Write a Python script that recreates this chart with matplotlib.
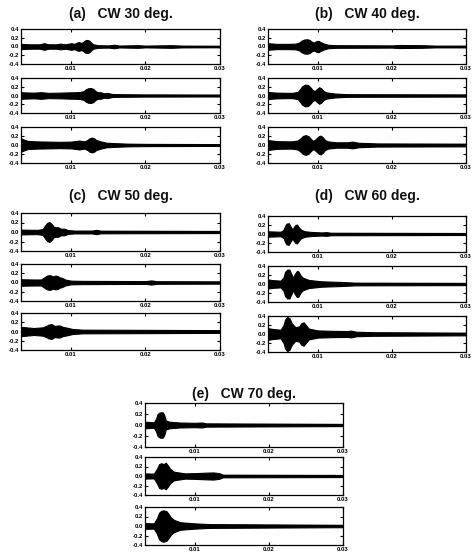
import matplotlib
matplotlib.use("Agg")
import matplotlib.pyplot as plt
import numpy as np

# envelope keypoints (time in s, half amplitude)
cw30_1 = [(0.0033, 0.06), (0.0045, 0.05), (0.0058, 0.05), (0.0064, 0.075), (0.0070, 0.05), (0.0080, 0.05),
          (0.0086, 0.065), (0.0093, 0.05), (0.0100, 0.075), (0.0105, 0.06), (0.0108, 0.09), (0.0111, 0.10),
          (0.0114, 0.08), (0.0117, 0.11), (0.0119, 0.14), (0.0122, 0.15), (0.0125, 0.13), (0.0127, 0.09),
          (0.0130, 0.05), (0.0136, 0.03), (0.0150, 0.025), (0.0158, 0.04), (0.0165, 0.022), (0.0190, 0.03),
          (0.0200, 0.02), (0.0235, 0.03), (0.0250, 0.02), (0.0300, 0.018)]
cw30_2 = [(0.0033, 0.075), (0.0040, 0.07), (0.0050, 0.065), (0.0060, 0.075), (0.0070, 0.06), (0.0085, 0.065),
          (0.0095, 0.07), (0.0105, 0.075), (0.0112, 0.08), (0.0117, 0.10), (0.0120, 0.14), (0.0123, 0.165),
          (0.0127, 0.17), (0.0130, 0.15), (0.0133, 0.10), (0.0136, 0.075), (0.0140, 0.075), (0.0144, 0.05),
          (0.0149, 0.06), (0.0155, 0.035), (0.0167, 0.03), (0.0200, 0.025), (0.0300, 0.022)]
cw30_3 = [(0.0033, 0.15), (0.0037, 0.12), (0.0042, 0.09), (0.0055, 0.08), (0.0070, 0.075), (0.0085, 0.07),
          (0.0100, 0.075), (0.0108, 0.09), (0.0111, 0.10), (0.0118, 0.08), (0.0122, 0.11), (0.0125, 0.15),
          (0.0128, 0.165), (0.0131, 0.15), (0.0134, 0.11), (0.0140, 0.08), (0.0148, 0.05), (0.0154, 0.045),
          (0.0176, 0.03), (0.0200, 0.025), (0.0300, 0.02)]

cw40_1 = [(0.0033, 0.075), (0.0045, 0.06), (0.0060, 0.06), (0.0070, 0.065), (0.0075, 0.09), (0.0078, 0.13),
          (0.0082, 0.16), (0.0086, 0.165), (0.0089, 0.15), (0.0092, 0.11), (0.0095, 0.09), (0.0098, 0.12),
          (0.0101, 0.13), (0.0104, 0.10), (0.0108, 0.07), (0.0114, 0.04), (0.0125, 0.03), (0.0200, 0.025),
          (0.0210, 0.035), (0.0240, 0.03), (0.0260, 0.02), (0.0300, 0.02)]
cw40_2 = [(0.0033, 0.08), (0.0045, 0.065), (0.0065, 0.06), (0.0073, 0.08), (0.0076, 0.14), (0.0079, 0.21),
          (0.0083, 0.25), (0.0087, 0.24), (0.0090, 0.19), (0.0093, 0.13), (0.0096, 0.10), (0.0099, 0.15),
          (0.0102, 0.19), (0.0105, 0.16), (0.0108, 0.10), (0.0112, 0.07), (0.0123, 0.045), (0.0140, 0.03),
          (0.0300, 0.025)]
cw40_3 = [(0.0033, 0.11), (0.0045, 0.085), (0.0065, 0.08), (0.0073, 0.10), (0.0077, 0.15), (0.0080, 0.20),
          (0.0084, 0.22), (0.0088, 0.19), (0.0091, 0.13), (0.0094, 0.09), (0.0098, 0.14), (0.0101, 0.19),
          (0.0104, 0.21), (0.0107, 0.17), (0.0110, 0.11), (0.0114, 0.08), (0.0125, 0.06), (0.0140, 0.06),
          (0.0147, 0.075), (0.0155, 0.05), (0.0180, 0.035), (0.0300, 0.03)]

cw50_1 = [(0.0033, 0.05), (0.0055, 0.045), (0.0062, 0.06), (0.0065, 0.13), (0.0068, 0.19), (0.0071, 0.21),
          (0.0074, 0.17), (0.0077, 0.11), (0.0080, 0.10), (0.0083, 0.10), (0.0086, 0.07), (0.0091, 0.07),
          (0.0096, 0.04), (0.0105, 0.03), (0.0128, 0.03), (0.0134, 0.045), (0.0140, 0.028), (0.0300, 0.022)]
cw50_2 = [(0.0033, 0.07), (0.0050, 0.065), (0.0060, 0.065), (0.0064, 0.11), (0.0068, 0.15), (0.0072, 0.16),
          (0.0076, 0.13), (0.0079, 0.15), (0.0082, 0.14), (0.0085, 0.11), (0.0088, 0.10), (0.0093, 0.06),
          (0.0100, 0.04), (0.0115, 0.035), (0.0200, 0.03), (0.0208, 0.045), (0.0215, 0.028), (0.0300, 0.025)]
cw50_3 = [(0.0033, 0.10), (0.0040, 0.09), (0.0050, 0.075), (0.0062, 0.09), (0.0067, 0.12), (0.0070, 0.15),
          (0.0074, 0.16), (0.0078, 0.12), (0.0082, 0.13), (0.0085, 0.13), (0.0089, 0.10), (0.0094, 0.085),
          (0.0102, 0.055), (0.0115, 0.04), (0.0300, 0.03)]

cw60_1 = [(0.0033, 0.06), (0.0050, 0.05), (0.0054, 0.09), (0.0056, 0.18), (0.0058, 0.23), (0.0061, 0.24),
          (0.0063, 0.18), (0.0066, 0.10), (0.0068, 0.16), (0.0070, 0.20), (0.0072, 0.21), (0.0075, 0.14),
          (0.0078, 0.09), (0.0083, 0.06), (0.0092, 0.045), (0.0105, 0.035), (0.0112, 0.04), (0.0118, 0.028),
          (0.0300, 0.022)]
cw60_2 = [(0.0033, 0.10), (0.0040, 0.085), (0.0050, 0.075), (0.0054, 0.15), (0.0056, 0.27), (0.0059, 0.32),
          (0.0062, 0.32), (0.0064, 0.24), (0.0067, 0.14), (0.0069, 0.22), (0.0072, 0.29), (0.0074, 0.28),
          (0.0077, 0.19), (0.0080, 0.14), (0.0088, 0.09), (0.0105, 0.06), (0.0132, 0.045), (0.0150, 0.03),
          (0.0300, 0.025)]
cw60_3 = [(0.0033, 0.13), (0.0040, 0.11), (0.0050, 0.095), (0.0054, 0.20), (0.0056, 0.32), (0.0059, 0.38),
          (0.0062, 0.35), (0.0065, 0.24), (0.0070, 0.15), (0.0075, 0.17), (0.0078, 0.24), (0.0081, 0.26),
          (0.0084, 0.20), (0.0088, 0.12), (0.0100, 0.08), (0.0120, 0.07), (0.0140, 0.065), (0.0145, 0.075),
          (0.0152, 0.05), (0.0175, 0.04), (0.0300, 0.03)]

cw70_1 = [(0.0033, 0.06), (0.0045, 0.05), (0.0048, 0.12), (0.0050, 0.20), (0.0053, 0.23), (0.0057, 0.23),
          (0.0059, 0.18), (0.0061, 0.08), (0.0066, 0.06), (0.0080, 0.045), (0.0100, 0.04), (0.0110, 0.045),
          (0.0115, 0.03), (0.0300, 0.02)]
cw70_2 = [(0.0033, 0.055), (0.0045, 0.05), (0.0049, 0.15), (0.0052, 0.25), (0.0055, 0.27), (0.0058, 0.25),
          (0.0061, 0.28), (0.0064, 0.22), (0.0067, 0.15), (0.0072, 0.09), (0.0087, 0.055), (0.0100, 0.06),
          (0.0115, 0.07), (0.0125, 0.075), (0.0133, 0.06), (0.0138, 0.028), (0.0300, 0.022)]
cw70_3 = [(0.0033, 0.06), (0.0045, 0.055), (0.0049, 0.16), (0.0052, 0.28), (0.0055, 0.32), (0.0058, 0.33),
          (0.0062, 0.31), (0.0065, 0.25), (0.0068, 0.18), (0.0072, 0.13), (0.0080, 0.08), (0.0100, 0.055),
          (0.0120, 0.04), (0.0300, 0.025)]

titles = ["(a)   CW 30 deg.", "(b)   CW 40 deg.", "(c)   CW 50 deg.", "(d)   CW 60 deg.", "(e)   CW 70 deg."]
groups = [[cw30_1, cw30_2, cw30_3], [cw40_1, cw40_2, cw40_3], [cw50_1, cw50_2, cw50_3],
          [cw60_1, cw60_2, cw60_3], [cw70_1, cw70_2, cw70_3]]
yticks = [-0.4, -0.2, 0.0, 0.2, 0.4]
ytick_labels = ["-0.4", "-0.2", "0.0", "0.2", "0.4"]
xticks = [0.01, 0.02, 0.03]
xtick_labels = ["0.01", "0.02", "0.03"]

W, H = 475, 560
fig = plt.figure(figsize=(W / 100, H / 100), dpi=100)
plt.rcParams['font.family'] = ['Liberation Sans', 'DejaVu Sans']

# layout in pixels: x0, x1, title y, [(top, bottom) per axes]
layout = [
    (21, 220, 14, [(29, 64), (78, 113), (127, 163)]),
    (268, 466, 14, [(29, 64), (78, 113), (127, 163)]),
    (21, 220, 196, [(213, 251), (264, 301), (313, 350)]),
    (268, 466, 196, [(216, 252), (266, 302), (316, 352)]),
    (145, 343, 394, [(403, 447), (457, 495), (507, 545)]),
]

for title, traces, (x0, x1, ty, rows) in zip(titles, groups, layout):
    fig.text((x0 + x1) / 2 / W, 1 - ty / H, title, ha='center', va='center',
             fontsize=10, fontweight='bold', color='#111111')
    for trace, (top, bot) in zip(traces, rows):
        ax = fig.add_axes([x0 / W, 1 - bot / H, (x1 - x0) / W, (bot - top) / H])
        t = np.array([p[0] for p in trace])
        a = np.array([p[1] for p in trace])
        ax.fill_between(t, -a, a, color='black', lw=0.8)
        ax.plot(t, np.zeros_like(t), color='black', lw=1.2)
        ax.set_xlim(0.0033, 0.03)
        ax.set_ylim(-0.4, 0.4)
        ax.set_yticks(yticks)
        ax.set_yticklabels(ytick_labels)
        ax.set_xticks(xticks)
        ax.set_xticklabels(xtick_labels)
        ax.tick_params(direction='in', length=2, width=0.8, labelsize=4.3, pad=1.5,
                       top=True, right=True)
        for lab in ax.get_xticklabels() + ax.get_yticklabels():
            lab.set_fontweight('bold')
        for s in ax.spines.values():
            s.set_linewidth(0.9)

fig.savefig("out.png", dpi=100)
